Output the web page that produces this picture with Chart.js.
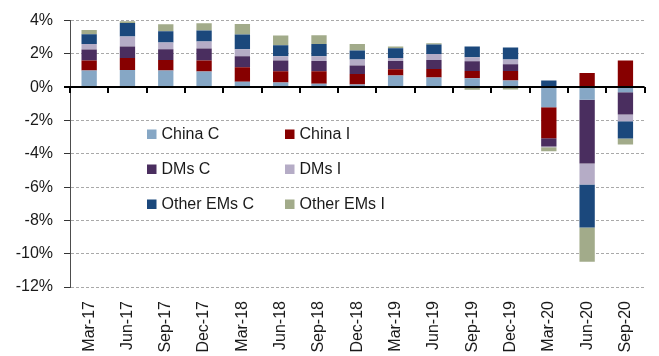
<!DOCTYPE html>
<html>
<head>
<meta charset="utf-8">
<script src="https://cdn.jsdelivr.net/npm/chart.js@4"></script>
<style>
  html, body { margin: 0; padding: 0; background: #ffffff; }
  canvas { display: block; }
</style>
</head>
<body>
<canvas id="chart" width="659" height="356"></canvas>
<script>
// Quarterly contributions (percentage points) by region and component
const categories = ['Mar-17', 'Jun-17', 'Sep-17', 'Dec-17', 'Mar-18', 'Jun-18', 'Sep-18',
  'Dec-18', 'Mar-19', 'Jun-19', 'Sep-19', 'Dec-19', 'Mar-20', 'Jun-20', 'Sep-20'];

const chinaC    = [1.00, 1.04, 1.00, 0.94, 0.32, 0.28, 0.20, 0.16, 0.70, 0.58, 0.54, 0.40, -1.20, -0.76, -0.30];
const chinaI    = [0.60, 0.72, 0.64, 0.66, 0.88, 0.68, 0.76, 0.64, 0.38, 0.52, 0.44, 0.58, -1.86, 0.86, 1.60];
const dmsC      = [0.66, 0.68, 0.64, 0.72, 0.66, 0.64, 0.62, 0.50, 0.50, 0.54, 0.58, 0.40, -0.50, -3.82, -1.34];
const dmsI      = [0.34, 0.60, 0.40, 0.42, 0.42, 0.26, 0.28, 0.36, 0.18, 0.36, 0.24, 0.28, -0.04, -1.26, -0.40];
const otherEmsC = [0.58, 0.82, 0.68, 0.66, 0.88, 0.66, 0.74, 0.54, 0.58, 0.56, 0.64, 0.72, 0.40, -2.58, -1.04];
const otherEmsI = [0.26, 0.10, 0.42, 0.44, 0.64, 0.58, 0.52, 0.40, 0.10, 0.08, -0.16, -0.14, -0.24, -2.06, -0.36];

const seriesNames = ['China C', 'China I', 'DMs C', 'DMs I', 'Other EMs C', 'Other EMs I'];
const seriesValues = [chinaC, chinaI, dmsC, dmsI, otherEmsC, otherEmsI];
const seriesColors = ['#86a7c5', '#870000', '#4a2e5f', '#b5acc6', '#1b487c', '#a2ab8a'];

const yTicks = [4, 2, 0, -2, -4, -6, -8, -10, -12];

const FONT = '"Liberation Sans", Arial, sans-serif';
const TEXT = '#1a1a1a';

// Solid zero axis with short tick marks at category boundaries
const zeroAxis = {
  id: 'zeroAxis',
  afterDatasetsDraw(chart) {
    const { ctx, scales: { x, y } } = chart;
    const y0 = Math.round(y.getPixelForValue(0));
    const n = categories.length;
    const step = (x.right - x.left) / n;
    ctx.save();
    ctx.strokeStyle = '#000000';
    ctx.lineWidth = 2;
    ctx.beginPath();
    ctx.moveTo(x.left - 6, y0);
    ctx.lineTo(x.right, y0);
    ctx.stroke();
    ctx.beginPath();
    for (let i = 0; i <= n; i++) {
      const px = Math.round(x.left + i * step);
      ctx.moveTo(px, y0);
      ctx.lineTo(px, y0 + 6);
    }
    ctx.stroke();
    ctx.restore();
  }
};

// Two-column legend inside the plot
const insideLegend = {
  id: 'insideLegend',
  afterDraw(chart) {
    const { ctx } = chart;
    const cols = [147, 285];
    const rows = [134, 169, 204];
    ctx.save();
    ctx.font = '16px ' + FONT;
    ctx.textBaseline = 'middle';
    ctx.textAlign = 'left';
    chart.data.datasets.forEach((ds, i) => {
      const cx = cols[i % 2];
      const cy = rows[Math.floor(i / 2)];
      ctx.fillStyle = ds.backgroundColor;
      ctx.fillRect(cx, cy - 4.5, 9.5, 9.5);
      ctx.fillStyle = TEXT;
      ctx.fillText(ds.label, cx + 14.5, cy + 0.5);
    });
    ctx.restore();
  }
};

new Chart(document.getElementById('chart'), {
  type: 'bar',
  data: {
    labels: categories,
    datasets: seriesNames.map((name, i) => ({
      label: name,
      data: seriesValues[i],
      backgroundColor: seriesColors[i],
      borderWidth: 0,
      stack: 'total',
      barPercentage: 0.4,
      categoryPercentage: 1.0
    }))
  },
  options: {
    responsive: false,
    animation: false,
    devicePixelRatio: 1,
    layout: { padding: { top: 20, right: 11, bottom: 0, left: 0 } },
    plugins: {
      legend: { display: false },
      tooltip: { enabled: false }
    },
    scales: {
      x: {
        stacked: true,
        grid: { display: false, drawTicks: false },
        border: { display: false },
        ticks: {
          autoSkip: false,
          minRotation: 90,
          maxRotation: 90,
          padding: 14,
          color: TEXT,
          font: { family: FONT, size: 16 }
        },
        afterFit(scale) { scale.height = 69; }
      },
      y: {
        stacked: true,
        min: Math.min(...yTicks),
        max: Math.max(...yTicks),
        afterBuildTicks(scale) {
          scale.ticks = yTicks.slice().reverse().map(v => ({ value: v }));
        },
        grid: {
          color: '#a9a9a9',
          lineWidth: 1,
          drawTicks: true,
          tickLength: 6,
          tickColor: '#333333',
          tickWidth: 1,
          tickBorderDash: []
        },
        border: {
          display: true,
          color: '#4d4d4d',
          width: 1,
          dash: (ctx) => (ctx.tick ? [3, 2] : [])
        },
        ticks: {
          padding: 11,
          color: TEXT,
          font: { family: FONT, size: 16 },
          callback: (v) => v + '%'
        },
        afterFit(scale) { scale.width = 70; }
      }
    }
  },
  plugins: [zeroAxis, insideLegend]
});
</script>
</body>
</html>
